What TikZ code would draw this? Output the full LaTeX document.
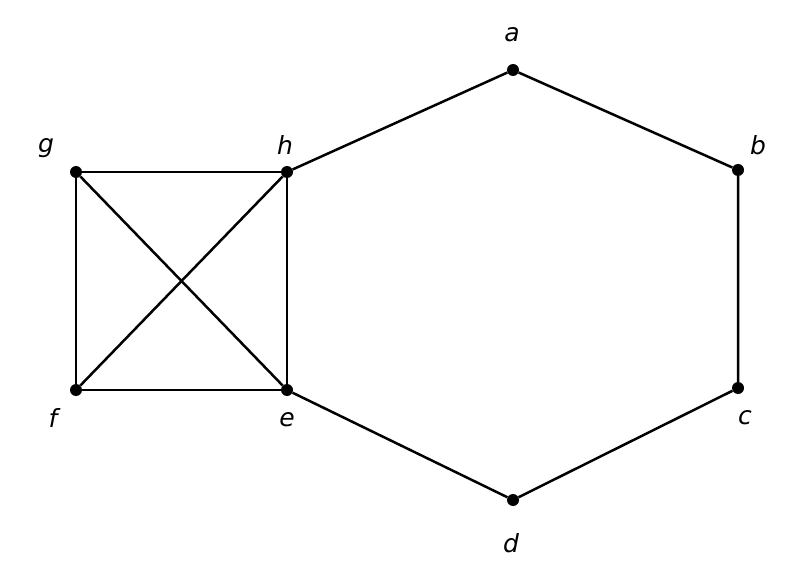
\documentclass[tikz,border=0pt]{standalone}
\usepackage{fontspec}
\setmainfont{DejaVu Sans}
\begin{document}
\begin{tikzpicture}[x=1pt,y=-1pt,
  vtx/.style={circle,fill=black,inner sep=0pt,minimum size=12pt},
  lab/.style={font=\fontsize{25}{25}\selectfont\itshape,inner sep=0pt},
  edge/.style={line width=2.5pt}]
\useasboundingbox (0,0) rectangle (811,588);
\node[vtx] (a) at (513,70) {};
\node[vtx] (b) at (738,170) {};
\node[vtx] (c) at (738,388) {};
\node[vtx] (d) at (513,500) {};
\node[vtx] (e) at (287,390) {};
\node[vtx] (f) at (76,390) {};
\node[vtx] (g) at (76,172) {};
\node[vtx] (h) at (287,172) {};
\node[lab] (la) at (512,35) {a};
\node[lab] (lb) at (758,145) {b};
\node[lab] (lc) at (745,418) {c};
\node[lab] (ld) at (511,543) {d};
\node[lab] (le) at (287,420) {e};
\node[lab] (lf) at (53,418) {f};
\node[lab] (lg) at (46,148) {g};
\node[lab] (lh) at (285,145) {h};
\draw[edge] (h) -- (a) -- (b) -- (c) -- (d) -- (e);
\draw[edge] (g) -- (h) -- (e) -- (f) -- (g);
\draw[edge] (g) -- (e);
\draw[edge] (f) -- (h);
\end{tikzpicture}
\end{document}
